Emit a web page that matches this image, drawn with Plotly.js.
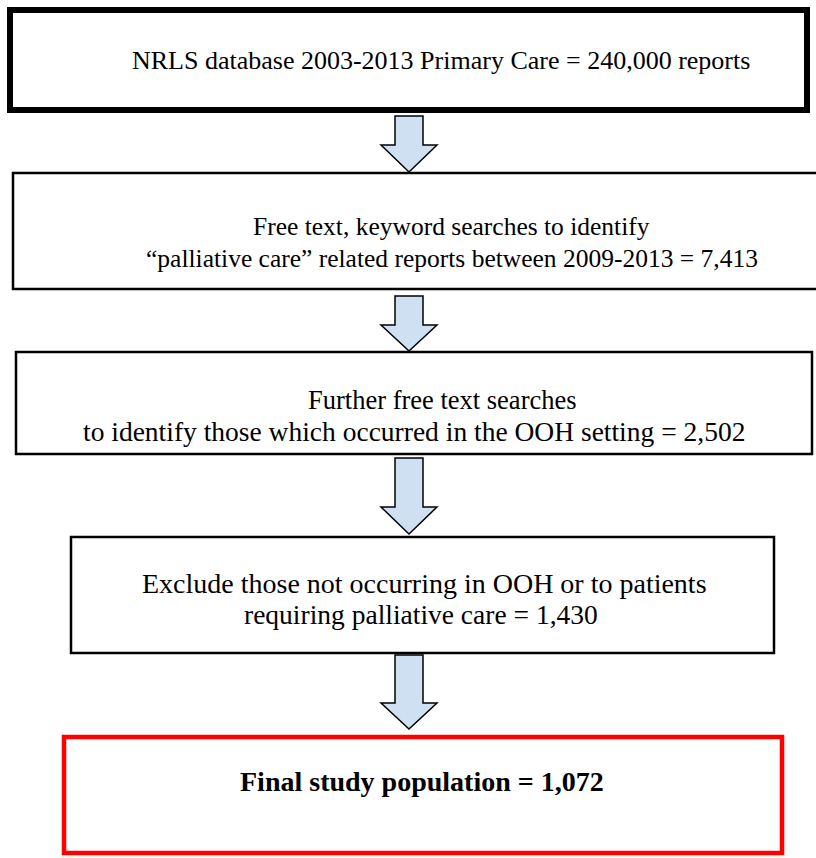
<!DOCTYPE html>
<html>
<head>
<meta charset="utf-8">
<script src="https://cdn.plot.ly/plotly-3.0.1.min.js"></script>
<style>html,body{margin:0;padding:0;background:#fff;}#chart{width:816px;height:858px;}</style>
</head>
<body>
<div id="chart"></div>
<script>
// Flow steps (text content)
const stepLines = [
  ["NRLS database 2003-2013 Primary Care = 240,000 reports"],
  ["Free text, keyword searches to identify", "\u201cpalliative care\u201d related reports between 2009-2013 = 7,413"],
  ["Further free text searches", "to identify those which occurred in the OOH setting = 2,502"],
  ["Exclude those not occurring in OOH or to patients", "requiring palliative care = 1,430"],
  ["<b>Final study population = 1,072</b>"]
];
const stepCounts = [240000, 7413, 2502, 1430, 1072];

// layout geometry (pixel coordinates)
const boxGeom = [
  {x0:10, x1:807, y0:10, y1:110, w:6, c:"#000"},
  {x0:13, x1:830, y0:173, y1:289, w:2.5, c:"#000"},
  {x0:16, x1:812, y0:352, y1:454, w:2.5, c:"#000"},
  {x0:71, x1:774, y0:537, y1:653, w:2.5, c:"#000"},
  {x0:64, x1:782, y0:737, y1:853, w:4.5, c:"#ff0000"}
];
const textPos = [
  [[441,60]],
  [[451,226],[452,258]],
  [[442,400],[414,431]],
  [[424,583],[421,614]],
  [[422,781]]
];
const textSize = [
  [26],
  [25.5, 25.5],
  [26.5, 27.5],
  [28, 27.5],
  [28]
];
const arrowGeom = [
  {top:116, base:145, tip:172},
  {top:296, base:325, tip:351},
  {top:458, base:507, tip:534},
  {top:655, base:703, tip:729}
];

const shapes = [];
boxGeom.forEach(b => shapes.push({type:"rect", xref:"x", yref:"y", x0:b.x0, x1:b.x1, y0:b.y0, y1:b.y1,
  line:{color:b.c, width:b.w}, fillcolor:"rgba(0,0,0,0)"}));
const sx0 = 395, sx1 = 423, hx0 = 381, hx1 = 437, tx = 409;
arrowGeom.forEach(a => shapes.push({type:"path", xref:"x", yref:"y",
  path:`M ${sx0} ${a.top} L ${sx1} ${a.top} L ${sx1} ${a.base} L ${hx1} ${a.base} L ${tx} ${a.tip} L ${hx0} ${a.base} L ${sx0} ${a.base} Z`,
  fillcolor:"#cfe0f2", line:{color:"#000", width:1.5}}));

const annotations = [];
stepLines.forEach((lines, i) => lines.forEach((t, j) => annotations.push({
  xref:"x", yref:"y", x:textPos[i][j][0], y:textPos[i][j][1], text:t, showarrow:false,
  xanchor:"center", yanchor:"middle",
  font:{family:"Liberation Serif, 'Times New Roman', serif", size:textSize[i][j], color:"#000"}
})));

const layout = {
  width:816, height:858, margin:{l:0,r:0,t:0,b:0},
  paper_bgcolor:"#fff", plot_bgcolor:"#fff", showlegend:false,
  xaxis:{range:[0,816], visible:false, fixedrange:true},
  yaxis:{range:[858,0], visible:false, fixedrange:true},
  shapes, annotations
};
Plotly.newPlot("chart", [{x:[], y:[], type:"scatter"}], layout, {staticPlot:true, displayModeBar:false});
</script>
</body>
</html>
